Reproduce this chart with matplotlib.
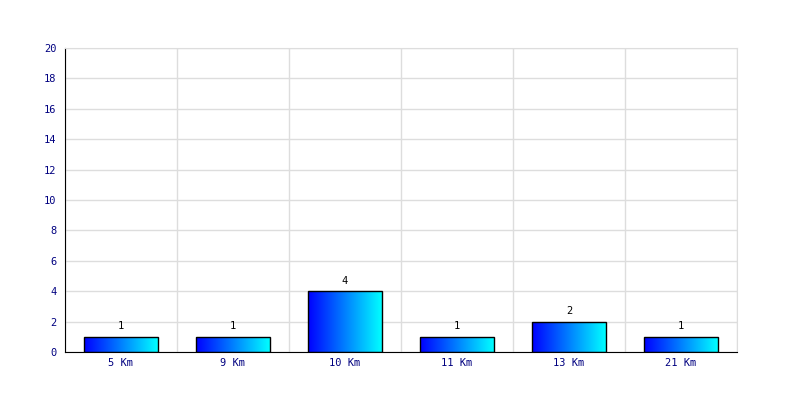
import numpy as np
import matplotlib
matplotlib.use("Agg")
from matplotlib import pyplot as plt
from matplotlib.colors import LinearSegmentedColormap
from matplotlib.patches import Rectangle

categories = ["5 Km", "9 Km", "10 Km", "11 Km", "13 Km", "21 Km"]
values = [1, 1, 4, 1, 2, 1]
y_ticks = list(range(0, 21, 2))

label_color = "#000080"
grid_color = "#dddddd"
bar_cmap = LinearSegmentedColormap.from_list("bluecyan", ["#0000ff", "#00ffff"])

fig = plt.figure(figsize=(8, 4), dpi=100)
ax = fig.add_axes([65 / 800, 48 / 400, 672 / 800, 304 / 400])

n = len(categories)
ax.set_xlim(-0.5, n - 0.5)
ax.set_ylim(0, 20)

# grid: horizontal at y ticks, vertical at category boundaries
ax.set_yticks(y_ticks)
ax.set_xticks(range(n))
ax.set_xticks(np.arange(-0.5, n, 1.0), minor=True)
ax.grid(True, axis="y", which="major", color=grid_color, lw=1)
ax.grid(True, axis="x", which="minor", color=grid_color, lw=1)
ax.grid(False, axis="x", which="major")
ax.set_axisbelow(True)

ax.spines["top"].set_color(grid_color)
ax.spines["right"].set_color(grid_color)
ax.spines["left"].set_color("black")
ax.spines["bottom"].set_color("black")

ax.tick_params(axis="both", which="both", length=0)
ax.tick_params(axis="y", pad=6)
ax.tick_params(axis="x", pad=4)
ax.set_xticklabels(categories, family="DejaVu Sans Mono", fontsize=7.5, color=label_color)
ax.set_yticklabels([str(t) for t in y_ticks], family="DejaVu Sans Mono", fontsize=7.5, color=label_color)

width = 0.66
grad = np.linspace(0, 1, 256).reshape(1, -1)
for i, v in enumerate(values):
    x0 = i - width / 2
    im = ax.imshow(grad, cmap=bar_cmap, aspect="auto",
                   extent=[x0, x0 + width, 0, v], zorder=2)
    rect = Rectangle((x0, 0), width, v, fill=False, edgecolor="black", lw=1, zorder=3)
    ax.add_patch(rect)
    im.set_clip_path(rect)
    ax.annotate(str(v), (i, v), xytext=(0, 4), textcoords="offset points",
                ha="center", va="bottom", family="DejaVu Sans Mono",
                fontsize=7.5, color="black")

ax.set_xlim(-0.5, n - 0.5)
ax.set_ylim(0, 20)

fig.savefig("out.png", dpi=100)
